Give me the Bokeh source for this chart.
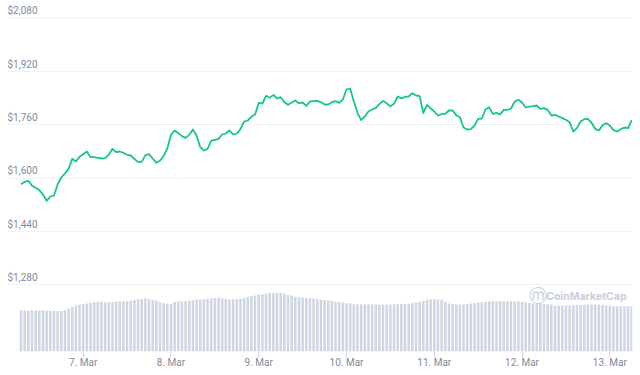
import pandas as pd
from bokeh.plotting import figure
from bokeh.models import Range1d, FixedTicker, Label
from bokeh.embed import file_html
from bokeh.resources import INLINE

# ---- data (hourly, starting 2021-03-06 07:00) ----
first_hour = "2021-03-06 07:00"

prices = [
    1582, 1589, 1592, 1577, 1571, 1564, 1551, 1532, 1545, 1548, 1581, 1602,
    1614, 1628, 1658, 1650, 1664, 1672, 1680, 1663, 1663, 1661, 1659, 1660,
    1670, 1688, 1678, 1680, 1676, 1670, 1668, 1658, 1648, 1649, 1669, 1672,
    1659, 1646, 1652, 1667, 1689, 1730, 1743, 1735, 1726, 1721, 1730, 1746,
    1728, 1693, 1683, 1688, 1712, 1715, 1718, 1731, 1734, 1743, 1731, 1734,
    1747, 1770, 1773, 1784, 1791, 1826, 1824, 1847, 1841, 1850, 1839, 1843,
    1828, 1820, 1827, 1833, 1825, 1827, 1817, 1830, 1831, 1832, 1828, 1821,
    1821, 1828, 1831, 1826, 1836, 1866, 1869, 1830, 1796, 1774, 1785, 1800,
    1806, 1811, 1822, 1832, 1824, 1816, 1823, 1845, 1839, 1844, 1845, 1855,
    1848, 1846, 1795, 1820, 1809, 1800, 1788, 1792, 1793, 1803, 1803, 1789,
    1783, 1752, 1746, 1747, 1758, 1778, 1779, 1806, 1813, 1793, 1796, 1791,
    1805, 1805, 1809, 1830, 1835, 1827, 1812, 1815, 1816, 1818, 1808, 1810,
    1805, 1788, 1790, 1785, 1780, 1775, 1768, 1740, 1750, 1770, 1777, 1778,
    1766, 1748, 1743, 1759, 1765, 1758, 1744, 1740, 1747, 1752, 1750, 1774,
]

volume = [
    41, 41, 40.8, 41, 41, 41.2, 41, 40.8, 40.5, 40.5, 40.5, 40.5,
    41.5, 43, 44.5, 46, 46.8, 47.4, 48, 48.7, 49.2, 49.7, 49.8, 49.3,
    49.2, 49.5, 50, 50.2, 50.3, 50.3, 50.7, 51.5, 52.3, 52.8, 53.3, 52.5,
    51.5, 50.7, 49.5, 48.3, 47.7, 47.8, 49.5, 50, 50.1, 50.2, 50.5, 51.2,
    52, 52.1, 52.2, 52.7, 53.2, 53.5, 53.5, 53.1, 52.6, 52.1, 52.2, 52.5,
    52.7, 53.5, 54.5, 55.5, 56, 57, 57.3, 57.8, 58.5, 58.7, 58.7, 58.7,
    58, 56.7, 55.8, 54.8, 54.2, 54, 53.7, 53.4, 53, 52.5, 52, 51.5,
    51, 50.6, 50.1, 49.5, 49, 48.4, 47.9, 47.3, 47.3, 47.3, 47.3, 47.3,
    47.2, 47, 46.8, 46.7, 46.8, 47, 47.2, 47.3, 47.5, 47.7, 47.9, 48.3,
    49, 49.8, 50.5, 51.5, 52.2, 52.2, 52, 51.5, 49.5, 48, 47.5, 47,
    46.8, 47.1, 47.6, 48.1, 48.5, 49, 49.4, 49.7, 50, 50.2, 50.3, 50.3,
    50.3, 50.3, 50.2, 50.1, 50, 49.8, 49.2, 48.6, 48.1, 47.9, 47.7, 47.5,
    47.2, 46.9, 45.8, 45.8, 45.9, 46, 46, 46.2, 46.4, 46.6, 46.8, 47,
    46.9, 46.8, 46.7, 46.5, 46.1, 45.7, 45.4, 45.3, 45.3, 45.3, 45.3, 45.3,
]

y_ticks = [1280, 1440, 1600, 1760, 1920, 2080]
y_tick_labels = ["$1,280", "$1,440", "$1,600", "$1,760", "$1,920", "$2,080"]

x_tick_dates = ["2021-03-07", "2021-03-08", "2021-03-09", "2021-03-10",
                "2021-03-11", "2021-03-12", "2021-03-13"]
x_tick_labels = ["7. Mar", "8. Mar", "9. Mar", "10. Mar", "11. Mar", "12. Mar", "13. Mar"]

# ---- build ----
times = pd.date_range(first_hour, periods=len(prices), freq="h")
x_start = times[0] - pd.Timedelta(minutes=222)
x_end = times[-1] + pd.Timedelta(minutes=12)

GREEN = "#16c784"
BAR = "#cfd5e1"
LABEL = "#808a9d"
GRID = "#eff1f4"
FONT = "Roboto"

p = figure(width=640, height=375, x_axis_type="datetime",
           x_range=Range1d(x_start, x_end), y_range=Range1d(1080, 2133),
           output_backend="svg", toolbar_location=None,
           min_border_left=7, min_border_right=8, min_border_top=0, min_border_bottom=24)
p.outline_line_color = None
p.background_fill_color = "white"
p.border_fill_color = "white"

p.extra_y_ranges = {"vol": Range1d(0, 351)}

hour_ms = 3600 * 1000
p.vbar(x=times, top=volume, bottom=0, width=0.68 * hour_ms, y_range_name="vol",
       fill_color=BAR, line_color=None)

p.line(x=times, y=prices, line_color=GREEN, line_width=1.8, line_join="round")

# axes / grid
p.yaxis.visible = False
p.xgrid.grid_line_color = None
p.ygrid.ticker = FixedTicker(ticks=y_ticks)
p.ygrid.grid_line_color = GRID
p.ygrid.grid_line_width = 1

tick_ms = [pd.Timestamp(d).value // 10**6 for d in x_tick_dates]
xa = p.xaxis[0]
xa.ticker = FixedTicker(ticks=tick_ms)
xa.major_label_overrides = {t: lab for t, lab in zip(tick_ms, x_tick_labels)}
xa.axis_line_color = None
xa.major_tick_line_color = "#ccd6eb"
xa.major_tick_out = 6
xa.major_tick_in = 0
xa.minor_tick_line_color = None
xa.major_label_standoff = -1
xa.major_label_text_color = LABEL
xa.major_label_text_font = FONT
xa.major_label_text_font_size = "10px"

# y tick labels sitting above the grid lines
for v, lab in zip(y_ticks, y_tick_labels):
    p.add_layout(Label(x=x_start, y=v, x_offset=0, y_offset=2, text=lab,
                       text_align="left", text_baseline="bottom",
                       text_color=LABEL, text_font=FONT, text_font_size="10px"))

# watermark
p.add_layout(Label(x=x_end, y=1080, x_offset=-6, y_offset=55, text="CoinMarketCap",
                   text_align="right", text_baseline="middle", text_color="#c8cfdb",
                   text_font="Inter", text_font_style="bold", text_font_size="10.5px"))
p.add_layout(Label(x=x_end, y=1080, x_offset=-95, y_offset=56, text="ⓜ",
                   text_align="center", text_baseline="middle", text_color="#c8cfdb",
                   text_font="DejaVu Sans", text_font_size="18px"))

open("out.html", "w").write(file_html(p, INLINE))
